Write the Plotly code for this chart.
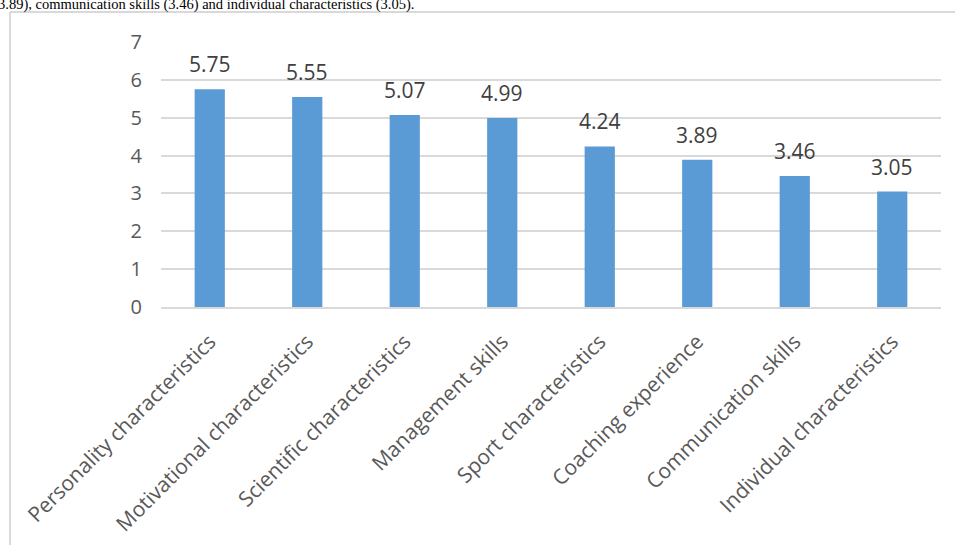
import plotly.graph_objects as go

categories = ["Personality characteristics", "Motivational characteristics", "Scientific characteristics",
              "Management skills", "Sport characteristics", "Coaching experience",
              "Communication skills", "Individual characteristics"]
values = [5.75, 5.55, 5.07, 4.99, 4.24, 3.89, 3.46, 3.05]
value_labels = ["5.75", "5.55", "5.07", "4.99", "4.24", "3.89", "3.46", "3.05"]
y_ticks = [0, 1, 2, 3, 4, 5, 6, 7]
caption = "3.89), communication skills (3.46) and individual characteristics (3.05)."

W, H = 955, 545
FONT = "Open Sans"
GRAY = "#595959"

fig = go.Figure()
fig.add_trace(go.Bar(x=categories, y=values, marker=dict(color="#5b9bd5", line=dict(width=0)),
                     width=0.31, hoverinfo="x+y"))

for c, v, t in zip(categories, values, value_labels):
    fig.add_annotation(x=c, y=v, text=t, showarrow=False, yanchor="bottom", yshift=9,
                       font=dict(family=FONT, size=21, color="#404040"))

fig.add_annotation(xref="paper", yref="paper", x=-4 / W, y=1 - 4 / H, xanchor="left", yanchor="middle",
                   text=caption, showarrow=False, font=dict(family="Liberation Serif", size=14.5, color="black"))

# document frame lines
fig.add_shape(type="line", xref="paper", yref="paper", x0=10 / W, x1=10 / W, y0=0, y1=1 - 12 / H,
              line=dict(color="#d9d9d9", width=2))
fig.add_shape(type="line", xref="paper", yref="paper", x0=10 / W, x1=1, y0=1 - 12 / H, y1=1 - 12 / H,
              line=dict(color="#d9d9d9", width=2))

fig.update_layout(
    width=W, height=H,
    margin=dict(l=0, r=0, t=0, b=0),
    paper_bgcolor="white", plot_bgcolor="white",
    showlegend=False, bargap=0.69,
    xaxis=dict(domain=[161 / W, 941 / W], tickangle=-45, automargin=False,
               tickfont=dict(family=FONT, size=21, color=GRAY), showgrid=False,
               showline=True, linecolor="#d9d9d9", linewidth=2, ticks="", ticklabelstandoff=12),
    yaxis=dict(domain=[(H - 307) / H, (H - 42) / H], range=[0, 7], tickvals=y_ticks, automargin=False,
               tickfont=dict(family=FONT, size=20, color=GRAY), showgrid=True, gridcolor="#d9d9d9",
               gridwidth=1.5, zeroline=False, showline=False, ticks="", ticklabelstandoff=18),
)

fig.write_html("out.html")
